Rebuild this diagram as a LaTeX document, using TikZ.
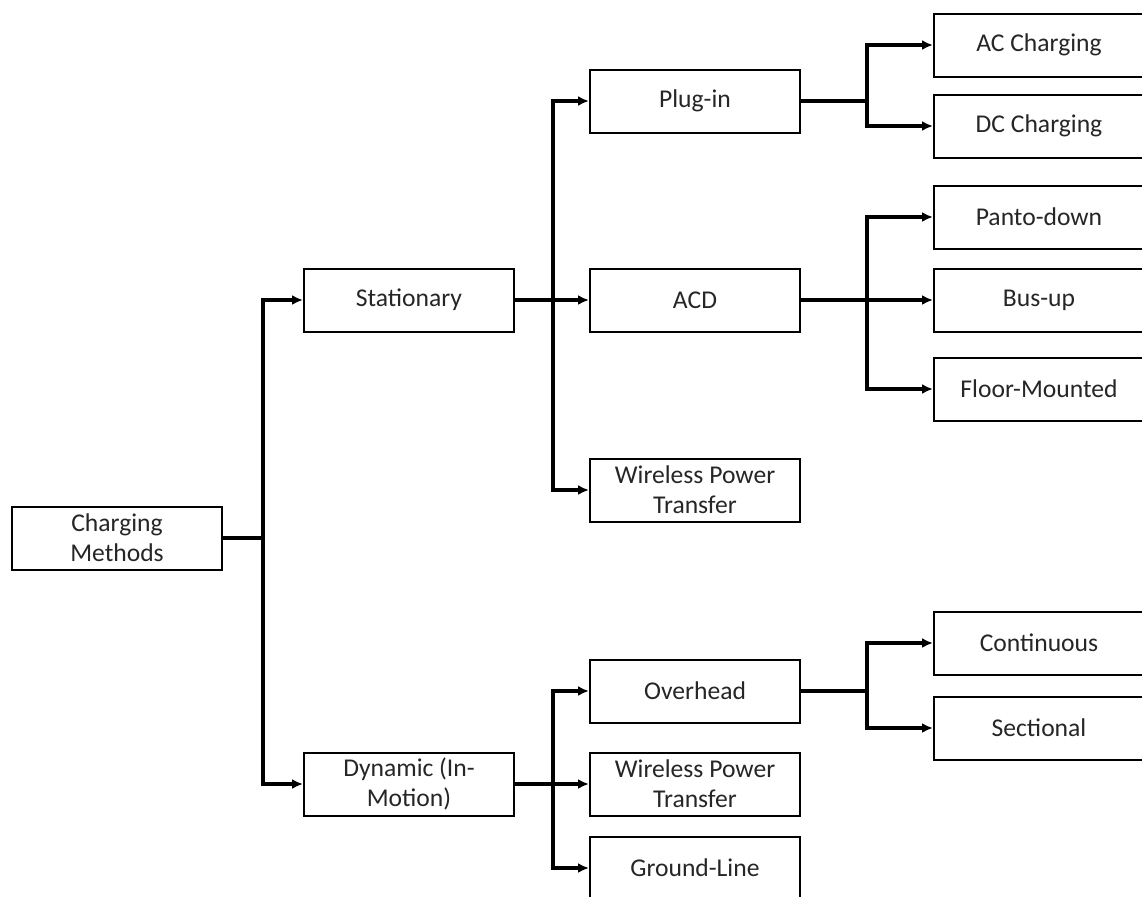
\documentclass[tikz,border=0pt]{standalone}
\usepackage{fontspec}
\setmainfont{Carlito}
\usetikzlibrary{arrows.meta}
\tikzset{
	mbox/.style={draw=black, line width=1pt, fill=white, align=center,
		minimum width=105pt, minimum height=31.5pt, inner sep=2pt,
		font=\fontsize{12.8}{15}\selectfont, text=black!85},
	mline/.style={line width=1.6pt, draw=black},
	marr/.style={mline, -{Latex[length=5.5pt, width=5pt]}}
}
\begin{document}
\begin{tikzpicture}[x=0.5pt, y=-0.5pt]
	\useasboundingbox (0,0) rectangle (1142,896);
	% boxes
	\node[mbox] (cm) at (117,538) {Charging\\Methods};
	\node[mbox] (stat) at (409,300) {Stationary};
	\node[mbox] (dyn) at (409,784) {Dynamic (In-\\Motion)};
	\node[mbox] (plug) at (695,101) {Plug-in};
	\node[mbox] (acd) at (695,300) {ACD};
	\node[mbox] (wpts) at (695,490) {Wireless Power\\Transfer};
	\node[mbox] (over) at (695,691) {Overhead};
	\node[mbox] (wptd) at (695,784) {Wireless Power\\Transfer};
	\node[mbox] (gl) at (695,868) {Ground-Line};
	\node[mbox] (ac) at (1039,45) {AC Charging};
	\node[mbox] (dc) at (1039,126) {DC Charging};
	\node[mbox] (panto) at (1039,217) {Panto-down};
	\node[mbox] (bus) at (1039,300) {Bus-up};
	\node[mbox] (floor) at (1039,389) {Floor-Mounted};
	\node[mbox] (cont) at (1039,643) {Continuous};
	\node[mbox] (sect) at (1039,728) {Sectional};
	% branch points
	\coordinate (jcm) at (263,538);
	\coordinate (jstat) at (553,300);
	\coordinate (jdyn) at (553,784);
	\coordinate (jplug) at (867,101);
	\coordinate (jacd) at (867,300);
	\coordinate (jover) at (867,691);
	% connectors
	\draw[mline] (cm.east) -- (jcm);
	\draw[marr] (jcm) |- (stat.west);
	\draw[marr] (jcm) |- (dyn.west);
	\draw[marr] (stat) -- (acd);
	\draw[marr] (jstat) |- (plug.west);
	\draw[marr] (jstat) |- (wpts.west);
	\draw[marr] (dyn) -- (wptd);
	\draw[marr] (jdyn) |- (over.west);
	\draw[marr] (jdyn) |- (gl.west);
	\draw[mline] (plug.east) -- (jplug);
	\draw[marr] (jplug) |- (ac.west);
	\draw[marr] (jplug) |- (dc.west);
	\draw[marr] (acd) -- (bus);
	\draw[marr] (jacd) |- (panto.west);
	\draw[marr] (jacd) |- (floor.west);
	\draw[mline] (over.east) -- (jover);
	\draw[marr] (jover) |- (cont.west);
	\draw[marr] (jover) |- (sect.west);
\end{tikzpicture}
\end{document}
